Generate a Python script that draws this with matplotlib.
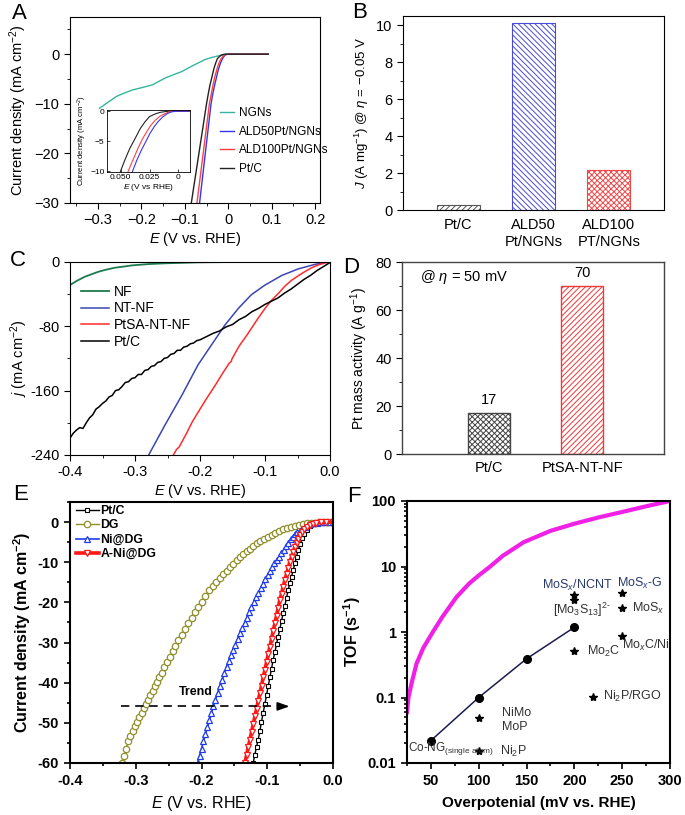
import matplotlib
matplotlib.use('Agg')
import matplotlib.pyplot as plt
import numpy as np
from matplotlib.ticker import MultipleLocator, NullFormatter, LogLocator

plt.rcParams['font.family'] = ['Liberation Sans', 'DejaVu Sans']
plt.rcParams['mathtext.fontset'] = 'custom'
plt.rcParams['mathtext.rm'] = 'Liberation Sans'
plt.rcParams['mathtext.it'] = 'Liberation Sans:italic'
plt.rcParams['mathtext.bf'] = 'Liberation Sans:bold'
plt.rcParams['hatch.linewidth'] = 0.7

# ---------------- Panel A data ----------------
a_ngn_E = [-0.296, -0.280, -0.257, -0.238, -0.220, -0.197, -0.175, -0.160, -0.145, -0.125, -0.107, -0.092,
           -0.077, -0.065, -0.054, -0.040, -0.026, -0.015, -0.004, 0.030, 0.092]
a_ngn_j = [-10.9, -9.9, -8.5, -7.8, -7.2, -6.7, -6.2, -5.5, -4.8, -4.1, -3.5, -2.8,
           -2.1, -1.6, -1.1, -0.7, -0.4, -0.15, 0.0, 0.0, 0.0]
a_ptc_E = [-0.087, -0.085, -0.0675, -0.050, -0.046, -0.042, -0.037, -0.033, -0.029, -0.025, -0.020, -0.016, -0.011, -0.007, 0.030, 0.092]
a_ptc_j = [-31.0, -30.0, -20.0, -10.0, -8.0, -6.2, -4.4, -2.9, -1.8, -0.9, -0.45, -0.2, -0.05, 0.0, 0.0, 0.0]
a_ald100_E = [-0.073, -0.072, -0.0577, -0.0434, -0.039, -0.035, -0.031, -0.0273, -0.024, -0.020, -0.016, -0.0116, -0.008, -0.004, 0.030, 0.092]
a_ald100_j = [-31.0, -30.0, -20.0, -10.0, -8.0, -6.2, -4.6, -3.4, -2.4, -1.5, -0.85, -0.4, -0.12, 0.0, 0.0, 0.0]
a_ald50_E = [-0.067, -0.066, -0.0528, -0.0396, -0.036, -0.032, -0.028, -0.0246, -0.021, -0.0174, -0.0135, -0.0096, -0.006, -0.002, 0.030, 0.092]
a_ald50_j = [-31.0, -30.0, -20.0, -10.0, -8.2, -6.5, -5.0, -3.7, -2.6, -1.7, -0.95, -0.4, -0.12, 0.0, 0.0, 0.0]
a_labels = ['NGNs', 'ALD50Pt/NGNs', 'ALD100Pt/NGNs', 'Pt/C']
a_xticks = [-0.3, -0.2, -0.1, 0.0, 0.1, 0.2]
a_xticklabels = ['\u22120.3', '\u22120.2', '\u22120.1', '0', '0.1', '0.2']
a_yticks = [-30, -20, -10, 0]
a_yticklabels = ['\u221230', '\u221220', '\u221210', '0']
a_in_xticks = [0.050, 0.025, 0.0]
a_in_xticklabels = ['0.050', '0.025', '0']
a_in_yticks = [-10, -5, 0]
a_in_yticklabels = ['\u221210', '\u22125', '0']

# ---------------- Panel B data ----------------
b_cats = ['Pt/C', 'ALD50\nPt/NGNs', 'ALD100\nPT/NGNs']
b_vals = [0.28, 10.1, 2.15]

# ---------------- Panel C data ----------------
c_nf_E = [-0.400, -0.390, -0.377, -0.365, -0.356, -0.345, -0.331, -0.315, -0.305, -0.280, -0.254, -0.203, -0.150, -0.100, -0.050, 0.000]
c_nf_j = [-29.0, -24.0, -18.6, -15.0, -12.4, -10.0, -7.5, -5.8, -4.6, -3.0, -2.0, -0.8, -0.4, -0.2, -0.1, 0.0]
c_ntnf_E = [-0.279, -0.254, -0.228, -0.203, -0.177, -0.162, -0.141, -0.121, -0.100, -0.074, -0.049, -0.023, 0.000]
c_ntnf_j = [-240.0, -203.0, -166.0, -128.0, -97.0, -79.0, -58.0, -41.0, -29.0, -17.0, -9.0, -3.3, 0.0]
c_ptsa_E = [-0.241, -0.236, -0.232, -0.228, -0.220, -0.212, -0.203, -0.190, -0.177, -0.164, -0.155, -0.152, -0.151,
            -0.140, -0.126, -0.113, -0.100, -0.090, -0.079, -0.069, -0.059, -0.048, -0.038, -0.028, -0.018, -0.008, 0.000]
c_ptsa_j = [-240.0, -233.0, -230.0, -224.0, -212.0, -199.0, -187.0, -170.0, -154.0, -137.0, -126.0, -124.0, -121.0,
            -105.0, -89.0, -73.0, -58.0, -48.0, -39.0, -30.0, -23.0, -17.0, -12.0, -7.5, -4.0, -1.5, 0.0]
c_ptc_E = [-0.400, -0.395, -0.390, -0.385, -0.380, -0.375, -0.370, -0.365, -0.360, -0.355, -0.350, -0.345,
           -0.340, -0.335, -0.330, -0.325, -0.320, -0.315, -0.310, -0.305, -0.300, -0.295, -0.290, -0.285,
           -0.280, -0.275, -0.270, -0.265, -0.260, -0.255, -0.250, -0.245, -0.240, -0.235, -0.230, -0.225,
           -0.220, -0.215, -0.210, -0.205, -0.200, -0.190, -0.180, -0.170, -0.160, -0.150, -0.140, -0.130,
           -0.120, -0.110, -0.100, -0.090, -0.080, -0.070, -0.060, -0.050, -0.040, -0.030, -0.020, -0.010, 0.000]
c_ptc_j = [-219, -213, -209, -206, -207, -200, -194, -190, -183, -180, -176, -173,
           -168, -166, -160, -159, -155, -150, -149, -145, -144, -140, -140, -135,
           -134, -130, -129, -125, -124, -120, -119, -115, -114, -110, -110, -106,
           -105, -102, -101, -98, -97, -93, -89, -86, -81, -78, -72, -68,
           -62, -58, -53, -49, -45, -39, -34, -28, -22, -17, -11, -6, -1]
c_labels = ['NF', 'NT-NF', 'PtSA-NT-NF', 'Pt/C']
c_xticks = [-0.4, -0.3, -0.2, -0.1, 0.0]
c_xticklabels = ['-0.4', '-0.3', '-0.2', '-0.1', '0.0']
c_yticks = [-240, -160, -80, 0]
c_yticklabels = ['-240', '-160', '-80', '0']

# ---------------- Panel D data ----------------
d_cats = ['Pt/C', 'PtSA-NT-NF']
d_vals = [17, 70]

# ---------------- Panel E data ----------------
e_ptc_E = [-0.1214, -0.1190, -0.1163, -0.1138, -0.1112, -0.1088, -0.1062, -0.1036, -0.1011, -0.0986,
           -0.0960, -0.0935, -0.0910, -0.0884, -0.0859, -0.0834, -0.0808, -0.0783, -0.0758, -0.0732,
           -0.0707, -0.0682, -0.0656, -0.0631, -0.0606, -0.0580, -0.0555, -0.0530, -0.0500, -0.0470,
           -0.0440, -0.0400, -0.0350, -0.0290, -0.0220, -0.0150, -0.0080, 0.0000]
e_ptc_j = [-60.0, -58.0, -56.0, -54.2, -52.0, -49.8, -47.5, -45.3, -43.1, -40.9,
           -38.7, -36.5, -34.3, -32.4, -30.4, -28.5, -26.6, -24.6, -22.7, -20.8,
           -18.8, -16.9, -15.2, -13.6, -12.0, -10.3, -8.6, -7.0, -5.5, -4.0,
           -2.9, -1.9, -1.1, -0.6, -0.3, -0.1, 0.0, 0.0]
e_dg_E = [-0.3210, -0.3180, -0.3150, -0.3113, -0.3080, -0.3046, -0.3012, -0.2978, -0.2945, -0.2911,
          -0.2877, -0.2844, -0.2810, -0.2776, -0.2742, -0.2708, -0.2674, -0.2641, -0.2607, -0.2565,
          -0.2522, -0.2480, -0.2438, -0.2396, -0.2354, -0.2303, -0.2253, -0.2202, -0.2151, -0.2101,
          -0.2050, -0.2000, -0.1940, -0.1880, -0.1826, -0.1773, -0.1720, -0.1669, -0.1619, -0.1568,
          -0.1517, -0.1467, -0.1416, -0.1365, -0.1315, -0.1264, -0.1213, -0.1163, -0.1112, -0.1055,
          -0.0995, -0.0935, -0.0875, -0.0815, -0.0755, -0.0695, -0.0635, -0.0575, -0.0515, -0.0455,
          -0.0395, -0.0335, -0.0275, -0.0215, -0.0155, -0.0095, -0.0035]
e_dg_j = [-60.0, -58.2, -56.5, -54.6, -53.2, -52.0, -50.9, -49.7, -48.6, -47.5,
          -46.4, -45.3, -44.2, -43.1, -42.0, -40.9, -39.8, -38.7, -37.6, -36.2,
          -34.9, -33.5, -32.1, -30.8, -29.4, -28.0, -26.6, -25.2, -23.8, -22.5,
          -21.1, -19.9, -18.4, -16.9, -15.9, -14.9, -14.0, -13.0, -12.1, -11.2,
          -10.4, -9.5, -8.7, -8.0, -7.3, -6.6, -6.0, -5.3, -4.7, -4.1,
          -3.6, -3.1, -2.6, -2.2, -1.8, -1.45, -1.15, -0.9, -0.65, -0.45,
          -0.3, -0.2, -0.12, -0.06, -0.02, 0.0, 0.0]
e_ni_E = [-0.2060, -0.2030, -0.2000, -0.1970, -0.1940, -0.1910, -0.1880, -0.1850, -0.1822, -0.1790,
          -0.1755, -0.1720, -0.1687, -0.1653, -0.1619, -0.1585, -0.1551, -0.1517, -0.1483, -0.1450,
          -0.1416, -0.1380, -0.1345, -0.1310, -0.1275, -0.1240, -0.1205, -0.1170, -0.1135, -0.1100,
          -0.1065, -0.1030, -0.0995, -0.0960, -0.0925, -0.0890, -0.0855, -0.0820, -0.0785, -0.0750,
          -0.0715, -0.0680, -0.0645, -0.0610, -0.0575, -0.0540, -0.0505, -0.0465, -0.0425, -0.0385,
          -0.0345, -0.0300, -0.0250, -0.0200, -0.0150, -0.0100, -0.0050, 0.0000]
e_ni_j = [-60.0, -58.2, -56.4, -54.6, -52.9, -51.1, -49.4, -47.6, -45.9, -44.3,
          -42.6, -40.9, -39.3, -37.7, -36.0, -34.6, -33.2, -31.9, -30.5, -29.1,
          -27.7, -26.4, -25.1, -23.8, -22.5, -21.2, -19.9, -18.7, -17.6, -16.5,
          -15.4, -14.2, -13.2, -12.2, -11.2, -10.3, -9.4, -8.6, -7.8, -6.9,
          -6.0, -5.1, -4.3, -3.6, -3.0, -2.5, -2.1, -1.6, -1.2, -0.85,
          -0.55, -0.35, -0.2, -0.1, -0.05, 0.0, 0.0, 0.0]
e_ani_E = [-0.1340, -0.1315, -0.1290, -0.1264, -0.1239, -0.1214, -0.1188, -0.1163, -0.1138, -0.1112,
           -0.1087, -0.1062, -0.1036, -0.1011, -0.0985, -0.0960, -0.0935, -0.0910, -0.0884, -0.0859,
           -0.0834, -0.0809, -0.0783, -0.0758, -0.0733, -0.0707, -0.0682, -0.0657, -0.0631, -0.0606,
           -0.0581, -0.0555, -0.0530, -0.0505, -0.0470, -0.0435, -0.0403, -0.0350, -0.0300, -0.0251,
           -0.0180, -0.0100, 0.0000]
e_ani_j = [-60.0, -58.1, -56.1, -54.2, -52.3, -50.3, -48.4, -46.5, -44.5, -42.6,
           -40.7, -38.7, -36.8, -34.9, -32.9, -31.0, -29.1, -27.1, -25.2, -23.3,
           -21.3, -19.4, -17.8, -16.1, -14.5, -12.9, -11.4, -9.9, -8.7, -7.4,
           -6.2, -5.2, -4.2, -3.3, -2.4, -1.7, -1.2, -0.7, -0.4, -0.25,
           -0.1, 0.0, 0.0]
e_labels = ['Pt/C', 'DG', 'Ni@DG', 'A-Ni@DG']
e_xticks = [-0.4, -0.3, -0.2, -0.1, 0.0]
e_xticklabels = ['-0.4', '-0.3', '-0.2', '-0.1', '0.0']
e_yticks = [-60, -50, -40, -30, -20, -10, 0]
e_yticklabels = ['-60', '-50', '-40', '-30', '-20', '-10', '0']

# ---------------- Panel F data ----------------
f_curve_x = [25, 26.5, 30, 35, 42, 52, 62, 77, 90, 100, 112, 125, 147, 175, 200, 225, 250, 275, 300]
f_curve_y = [0.06, 0.1, 0.17, 0.33, 0.57, 1.0, 1.7, 3.45, 5.5, 7.3, 10, 14.5, 23.5, 35, 45, 56, 68, 83, 100]
f_conc_x = [50, 100, 150, 200]
f_conc_y = [0.022, 0.1, 0.39, 1.18]
f_star_x = [200, 200, 250, 250, 250, 200, 220, 100, 100]
f_star_y = [3.67, 3.08, 3.9, 2.3, 0.87, 0.52, 0.103, 0.049, 0.0155]
f_xticks = [50, 100, 150, 200, 250, 300]
f_yticks = [0.01, 0.1, 1, 10, 100]
f_yticklabels = ['0.01', '0.1', '1', '10', '100']

W, H = 685.0, 815.0
fig = plt.figure(figsize=(6.85, 8.15), dpi=100)


def rect(l, r, t, b):
    return [l / W, 1 - b / H, (r - l) / W, (b - t) / H]


def letter(x, y, s):
    fig.text(x / W, 1 - y / H, s, fontsize=16, ha='left', va='top')


# ================= A =================
axA = fig.add_axes(rect(70, 320, 17, 203))
cA = {'NGNs': '#35b59e', 'ALD50Pt/NGNs': '#3535f0', 'ALD100Pt/NGNs': '#ff4040', 'Pt/C': '#222222'}
axA.plot(a_ngn_E, a_ngn_j, color=cA['NGNs'], lw=1.0, label=a_labels[0])
axA.plot(a_ald50_E, a_ald50_j, color=cA['ALD50Pt/NGNs'], lw=1.0, label=a_labels[1])
axA.plot(a_ald100_E, a_ald100_j, color=cA['ALD100Pt/NGNs'], lw=1.0, label=a_labels[2])
axA.plot(a_ptc_E, a_ptc_j, color=cA['Pt/C'], lw=1.0, label=a_labels[3])
axA.set_xlim(-0.364, 0.211)
axA.set_ylim(-30, 7.5)
axA.set_xticks(a_xticks, a_xticklabels)
axA.set_yticks(a_yticks, a_yticklabels)
axA.xaxis.set_minor_locator(MultipleLocator(0.05))
axA.yaxis.set_minor_locator(MultipleLocator(5))
axA.tick_params(which='both', direction='out', labelsize=10.5, top=False, right=False)
axA.tick_params(which='major', length=4)
axA.tick_params(which='minor', length=2.5)
axA.set_xlabel('$E$ (V vs. RHE)', fontsize=10.5, labelpad=2)
axA.set_ylabel('Current density (mA cm$^{-2}$)', fontsize=10.5, labelpad=4)
for s in axA.spines.values():
    s.set_linewidth(0.8)
axA.legend(loc='upper left', bbox_to_anchor=(0.58, 0.54), frameon=False, fontsize=8.5,
           handlelength=1.2, handletextpad=0.4, labelspacing=0.55, borderaxespad=0)

axAi = fig.add_axes(rect(106.7, 190, 110, 171.7))
axAi.plot(-np.array(a_ptc_E), a_ptc_j, color=cA['Pt/C'], lw=0.8)
axAi.plot(-np.array(a_ald100_E), a_ald100_j, color=cA['ALD100Pt/NGNs'], lw=0.8)
axAi.plot(-np.array(a_ald50_E), a_ald50_j, color=cA['ALD50Pt/NGNs'], lw=0.8)
axAi.set_xlim(0.062, -0.010)
axAi.set_ylim(-10.1, 0.2)
axAi.set_xticks(a_in_xticks, a_in_xticklabels)
axAi.set_yticks(a_in_yticks, a_in_yticklabels)
axAi.tick_params(direction='in', labelsize=6, length=2, pad=1.5, width=0.5)
axAi.set_xlabel('$E$ (V vs RHE)', fontsize=6, labelpad=1)
axAi.set_ylabel('Current density (mA cm$^{-2}$)', fontsize=5.5, labelpad=1)
for s in axAi.spines.values():
    s.set_linewidth(0.6)
letter(12, 3, 'A')

# ================= B =================
axB = fig.add_axes(rect(403, 664, 16, 210))
b_face = ['white', 'white', 'white']
b_edge = ['#555555', '#4a4ad8', '#f04848']
b_hatch = ['//////', '\\\\\\\\\\\\', 'xxxxxx']
xb = np.arange(len(b_cats))
bars = axB.bar(xb, b_vals, width=0.57, color=b_face, edgecolor=b_edge, linewidth=0.8)
for bar, h in zip(bars, b_hatch):
    bar.set_hatch(h)
axB.set_xlim(-0.73, 2.73)
axB.set_ylim(0, 10.5)
axB.set_xticks(xb, b_cats)
axB.yaxis.set_major_locator(MultipleLocator(2))
axB.yaxis.set_minor_locator(MultipleLocator(1))
axB.tick_params(axis='x', length=0, labelsize=10.5, pad=6)
axB.tick_params(axis='y', which='both', direction='out', labelsize=10.5)
axB.tick_params(axis='y', which='major', length=4)
axB.tick_params(axis='y', which='minor', length=2.5)
axB.set_ylabel('$J$ (A mg$^{-1}$) @ $\\eta$ = \u22120.05 V', fontsize=9.5, labelpad=4)
for s in axB.spines.values():
    s.set_linewidth(0.8)
letter(352, 2, 'B')

# ================= C =================
axC = fig.add_axes(rect(70, 330, 261.7, 455))
axC.plot(c_nf_E, c_nf_j, color='#1d7a4e', lw=1.3, label=c_labels[0])
axC.plot(c_ntnf_E, c_ntnf_j, color='#3a46b0', lw=1.1, label=c_labels[1])
axC.plot(c_ptsa_E, c_ptsa_j, color='#ff2a2a', lw=1.1, label=c_labels[2])
axC.plot(c_ptc_E, c_ptc_j, color='black', lw=1.1, label=c_labels[3])
axC.set_xlim(-0.4, 0.0)
axC.set_ylim(-240, 0)
axC.set_xticks(c_xticks, c_xticklabels)
axC.set_yticks(c_yticks, c_yticklabels)
axC.xaxis.set_minor_locator(MultipleLocator(0.05))
axC.yaxis.set_minor_locator(MultipleLocator(40))
axC.tick_params(which='both', direction='out', labelsize=10.5)
axC.tick_params(which='major', length=4)
axC.tick_params(which='minor', length=2.5)
axC.set_xlabel('$E$ (V vs. RHE)', fontsize=10.5, labelpad=2)
axC.set_ylabel('$j$ (mA cm$^{-2}$)', fontsize=10.5, labelpad=0)
for s in axC.spines.values():
    s.set_linewidth(0.8)
axC.legend(loc='upper left', bbox_to_anchor=(0.02, 0.91), frameon=False, fontsize=10,
           handlelength=2.0, handletextpad=0.4, labelspacing=0.2, borderaxespad=0)
letter(10, 250, 'C')

# ================= D =================
axD = fig.add_axes(rect(402, 664, 262, 454))
xd = np.arange(len(d_cats))
d_edge = ['#444444', '#f03838']
d_hatch = ['xxxxxx', '//////']
barsD = axD.bar(xd, d_vals, width=0.45, color='white', edgecolor=d_edge, linewidth=1.0)
for bar, h in zip(barsD, d_hatch):
    bar.set_hatch(h)
for xi, v in zip(xd, d_vals):
    axD.text(xi, v + 2.5, str(v), ha='center', va='bottom', fontsize=10.5)
axD.text(0.07, 0.92, '@ $\\eta$ = 50 mV', transform=axD.transAxes, fontsize=10.5, va='center')
axD.set_xlim(-0.94, 1.88)
axD.set_ylim(0, 80)
axD.set_xticks(xd, d_cats)
axD.yaxis.set_major_locator(MultipleLocator(20))
axD.yaxis.set_minor_locator(MultipleLocator(10))
axD.tick_params(axis='x', length=0, labelsize=10.5, pad=5)
axD.tick_params(axis='y', which='both', direction='out', labelsize=10.5)
axD.tick_params(axis='y', which='major', length=4)
axD.tick_params(axis='y', which='minor', length=2.5)
axD.set_ylabel('Pt mass activity (A g$^{-1}$)', fontsize=10, labelpad=4)
for s in axD.spines.values():
    s.set_linewidth(1.0)
    s.set_color('#444444')
letter(343, 257, 'D')

# ================= E =================
axE = fig.add_axes(rect(70, 333, 502, 763))
axE.plot(e_ptc_E, e_ptc_j, color='black', lw=1.0, marker='s', ms=3.3, mfc='white', mec='black', mew=0.8, label=e_labels[0])
axE.plot(e_dg_E, e_dg_j, color='#8f8f2c', lw=1.0, marker='o', ms=4.6, mfc='white', mec='#8f8f2c', mew=0.9, label=e_labels[1])
axE.plot(e_ni_E, e_ni_j, color='#1f3be8', lw=1.2, marker='^', ms=4.4, mfc='white', mec='#1f3be8', mew=0.9, label=e_labels[2])
axE.plot(e_ani_E, e_ani_j, color='#ff1818', lw=2.6, marker='v', ms=4.4, mfc='white', mec='#ff1818', mew=0.9, label=e_labels[3])
axE.plot([-0.323, -0.075], [-45.9, -45.9], color='black', lw=1.2, ls=(0, (5, 3.5)))
axE.annotate('', xy=(-0.062, -45.9), xytext=(-0.078, -45.9),
             arrowprops=dict(arrowstyle='-|>,head_length=0.7,head_width=0.25', color='black', lw=1.2))
axE.text(-0.209, -42.4, 'Trend', fontsize=9, fontweight='bold', ha='center', va='center')
axE.set_xlim(-0.4, 0.0)
axE.set_ylim(-60, 5)
axE.set_xticks(e_xticks, e_xticklabels)
axE.set_yticks(e_yticks, e_yticklabels)
axE.xaxis.set_minor_locator(MultipleLocator(0.05))
axE.yaxis.set_minor_locator(MultipleLocator(5))
axE.tick_params(which='both', direction='out', labelsize=10.5, width=1.2)
axE.tick_params(which='major', length=4.5)
axE.tick_params(which='minor', length=2.5)
for lab in axE.get_xticklabels() + axE.get_yticklabels():
    lab.set_fontweight('bold')
axE.set_xlabel('$E$ (V vs. RHE)', fontsize=11.5, labelpad=4)
axE.set_ylabel('Current density (mA cm$^{\\mathbf{-2}}$)', fontsize=11.5, fontweight='bold', labelpad=3)
for s in axE.spines.values():
    s.set_linewidth(1.5)
axE.legend(loc='upper left', bbox_to_anchor=(0.0, 1.01), frameon=False, prop={'weight': 'bold', 'size': 8.8},
           handlelength=1.9, handletextpad=0.15, labelspacing=0.2, borderaxespad=0.05)
letter(13, 484, 'E')

# ================= F =================
axF = fig.add_axes(rect(407, 670, 501, 763))
axF.plot(f_curve_x, f_curve_y, color='#f020e6', lw=3.0)
axF.plot(f_conc_x, f_conc_y, color='#1c1c50', lw=1.1, marker='o', ms=5.5, mfc='black', mec='black')
axF.plot(f_star_x, f_star_y, ls='none', marker='*', ms=6, color='black')
navy = '#2b3a6e'
grey = '#333333'
fs = 9
axF.text(203, 5.2, 'MoS$_x$/NCNT', fontsize=fs, color=navy, ha='center', va='center')
axF.text(208, 2.17, '[Mo$_3$S$_{13}$]$^{2\\text{-}}$', fontsize=fs, color=grey, ha='center', va='center')
axF.text(268, 5.5, 'MoS$_x$-G', fontsize=fs, color=navy, ha='center', va='center')
axF.text(260, 2.3, 'MoS$_x$', fontsize=fs, color=grey, ha='left', va='center')
axF.text(250, 0.63, 'Mo$_x$C/Ni', fontsize=fs, color=grey, ha='left', va='center')
axF.text(213, 0.5, 'Mo$_2$C', fontsize=fs, color=grey, ha='left', va='center')
axF.text(230, 0.103, 'Ni$_2$P/RGO', fontsize=fs, color=grey, ha='left', va='center')
axF.text(124, 0.059, 'NiMo', fontsize=fs, color=grey, ha='left', va='center')
axF.text(124, 0.036, 'MoP', fontsize=fs, color=grey, ha='left', va='center')
axF.text(26, 0.0168, 'Co-NG$_{\\mathrm{(single\\ atom)}}$', fontsize=8.5, color=grey, ha='left', va='center')
axF.text(122, 0.0148, 'Ni$_2$P', fontsize=fs, color=grey, ha='left', va='center')
axF.set_xlim(25, 300)
axF.set_yscale('log')
axF.set_ylim(0.01, 100)
axF.set_xticks(f_xticks)
axF.set_yticks(f_yticks, f_yticklabels)
axF.xaxis.set_minor_locator(MultipleLocator(25))
axF.yaxis.set_minor_locator(LogLocator(base=10, subs=np.arange(2, 10)))
axF.yaxis.set_minor_formatter(NullFormatter())
axF.tick_params(which='both', direction='out', labelsize=10.5, width=1.2)
axF.tick_params(which='major', length=4.5)
axF.tick_params(which='minor', length=2.5)
for lab in axF.get_xticklabels() + axF.get_yticklabels():
    lab.set_fontweight('bold')
axF.set_xlabel('Overpotenial (mV vs. RHE)', fontsize=11, fontweight='bold', labelpad=6)
axF.set_ylabel('TOF (s$^{\\mathbf{-1}}$)', fontsize=11.5, fontweight='bold', labelpad=3)
for s in axF.spines.values():
    s.set_linewidth(1.5)
letter(347, 486, 'F')

fig.savefig('out.png', dpi=100)
